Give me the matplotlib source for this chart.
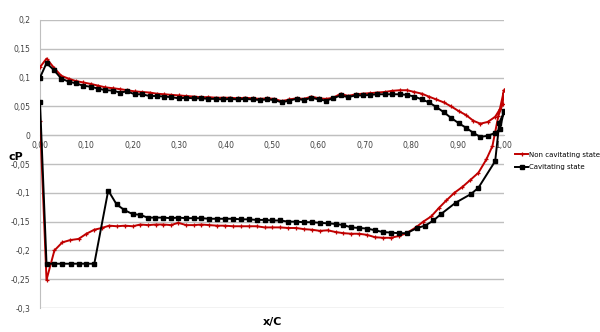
import matplotlib.pyplot as plt
from matplotlib.ticker import FuncFormatter

# upper surface (leading edge -> trailing edge)
upper_x = [0.000, 0.014, 0.030, 0.046, 0.062, 0.077, 0.093, 0.109, 0.125, 0.141,
           0.157, 0.172, 0.188, 0.204, 0.220, 0.236, 0.252, 0.268, 0.283, 0.299,
           0.315, 0.331, 0.347, 0.363, 0.379, 0.394, 0.410, 0.426, 0.442, 0.458,
           0.474, 0.490, 0.505, 0.521, 0.537, 0.553, 0.569, 0.585, 0.601, 0.616,
           0.632, 0.648, 0.664, 0.680, 0.696, 0.712, 0.727, 0.743, 0.759, 0.775,
           0.791, 0.807, 0.823, 0.838, 0.854, 0.870, 0.886, 0.902, 0.918, 0.934,
           0.949, 0.965, 0.981, 0.991, 1.000]
upper_noncav = [0.118, 0.133, 0.117, 0.103, 0.098, 0.094, 0.0915, 0.089, 0.086, 0.083,
                0.0815, 0.080, 0.078, 0.076, 0.075, 0.074, 0.072, 0.071, 0.070, 0.069,
                0.068, 0.067, 0.066, 0.066, 0.065, 0.065, 0.065, 0.064, 0.065, 0.064,
                0.063, 0.064, 0.063, 0.059, 0.062, 0.064, 0.063, 0.067, 0.064, 0.063,
                0.065, 0.072, 0.068, 0.071, 0.072, 0.073, 0.074, 0.075, 0.077, 0.078,
                0.078, 0.075, 0.072, 0.067, 0.062, 0.057, 0.050, 0.042, 0.035, 0.025,
                0.020, 0.023, 0.032, 0.045, 0.078]
upper_cav = [0.100, 0.125, 0.113, 0.098, 0.093, 0.090, 0.086, 0.084, 0.081, 0.078,
             0.0775, 0.074, 0.076, 0.071, 0.071, 0.068, 0.068, 0.067, 0.066, 0.064,
             0.065, 0.064, 0.064, 0.063, 0.063, 0.062, 0.063, 0.062, 0.063, 0.062,
             0.061, 0.062, 0.061, 0.057, 0.060, 0.063, 0.061, 0.065, 0.062, 0.060,
             0.064, 0.069, 0.066, 0.069, 0.069, 0.070, 0.071, 0.071, 0.071, 0.071,
             0.070, 0.067, 0.062, 0.057, 0.049, 0.040, 0.030, 0.021, 0.013, 0.004,
             -0.003, -0.001, 0.004, 0.010, 0.042]

# lower surface (leading edge -> trailing edge)
lower_x_noncav = [0.000, 0.014, 0.031, 0.048, 0.065, 0.083, 0.100, 0.117, 0.133, 0.149,
                  0.166, 0.183, 0.200, 0.216, 0.233, 0.250, 0.266, 0.282, 0.298, 0.315,
                  0.332, 0.348, 0.365, 0.382, 0.399, 0.416, 0.433, 0.450, 0.467, 0.484,
                  0.501, 0.518, 0.535, 0.552, 0.569, 0.586, 0.603, 0.620, 0.637, 0.654,
                  0.671, 0.688, 0.705, 0.722, 0.739, 0.756, 0.773, 0.790, 0.810, 0.826,
                  0.843, 0.860, 0.876, 0.893, 0.910, 0.927, 0.945, 0.962, 0.975, 0.988,
                  0.997, 1.000]
lower_noncav = [0.025, -0.251, -0.200, -0.186, -0.182, -0.180, -0.171, -0.164, -0.161, -0.157,
                -0.158, -0.157, -0.158, -0.155, -0.156, -0.155, -0.155, -0.156, -0.152, -0.156,
                -0.156, -0.155, -0.156, -0.157, -0.157, -0.158, -0.158, -0.158, -0.158, -0.160,
                -0.160, -0.160, -0.161, -0.161, -0.163, -0.164, -0.166, -0.165, -0.168, -0.170,
                -0.171, -0.171, -0.173, -0.177, -0.178, -0.178, -0.175, -0.170, -0.160, -0.150,
                -0.141, -0.126, -0.113, -0.100, -0.090, -0.078, -0.065, -0.042, -0.019, 0.034,
                0.054, 0.078]

lower_x_cav = [0.000, 0.014, 0.031, 0.048, 0.066, 0.083, 0.100, 0.117, 0.147, 0.165,
               0.182, 0.200, 0.215, 0.232, 0.248, 0.266, 0.282, 0.298, 0.315, 0.331,
               0.348, 0.365, 0.382, 0.399, 0.416, 0.433, 0.450, 0.467, 0.484, 0.501,
               0.518, 0.535, 0.552, 0.569, 0.586, 0.603, 0.620, 0.637, 0.654, 0.671,
               0.688, 0.705, 0.722, 0.739, 0.756, 0.773, 0.790, 0.813, 0.830, 0.848,
               0.864, 0.896, 0.929, 0.945, 0.981, 0.990, 1.000]
lower_cav = [0.057, -0.223, -0.223, -0.223, -0.223, -0.223, -0.223, -0.223, -0.096, -0.120,
             -0.130, -0.137, -0.138, -0.143, -0.143, -0.143, -0.144, -0.143, -0.144, -0.144,
             -0.144, -0.145, -0.145, -0.145, -0.145, -0.146, -0.146, -0.147, -0.147, -0.148,
             -0.148, -0.150, -0.150, -0.151, -0.151, -0.152, -0.153, -0.154, -0.156, -0.160,
             -0.161, -0.162, -0.165, -0.168, -0.169, -0.170, -0.170, -0.161, -0.157, -0.148,
             -0.137, -0.117, -0.102, -0.091, -0.045, 0.022, 0.040]

labels = ["Non cavitating state", "Cavitating state"]

fig = plt.figure(figsize=(6, 3.32), dpi=100)
ax = fig.add_axes([0.0667, 0.072, 0.7733, 0.868])

# one polyline per series: upper surface to trailing edge, then lower surface back
x_nc = upper_x + lower_x_noncav[::-1]
y_nc = upper_noncav + lower_noncav[::-1]
x_c = upper_x + lower_x_cav[::-1]
y_c = upper_cav + lower_cav[::-1]

ax.plot(x_nc, y_nc, color='#C00000', lw=1.4, marker='+', ms=3, mew=0.9,
        label=labels[0], zorder=3)
ax.plot(x_c, y_c, color='black', lw=1.4, marker='s', ms=2.6,
        label=labels[1], zorder=4)

ax.set_xlim(0, 1.0)
ax.set_ylim(-0.3, 0.2)
ax.set_xticks([i / 10 for i in range(11)])
ax.set_yticks([-0.3, -0.25, -0.2, -0.15, -0.1, -0.05, 0, 0.05, 0.1, 0.15, 0.2])

ax.xaxis.set_major_formatter(FuncFormatter(lambda v, p: f"{v:.2f}".replace('.', ',')))
ax.yaxis.set_major_formatter(FuncFormatter(
    lambda v, p: '0' if abs(v) < 1e-9 else f"{v:g}".replace('.', ',')))

ax.grid(axis='y', color='#BFBFBF', lw=1)
ax.set_axisbelow(True)
for s in ['top', 'right']:
    ax.spines[s].set_visible(False)
ax.spines['bottom'].set_position(('data', 0))
ax.spines['bottom'].set_color('#BFBFBF')
ax.spines['left'].set_color('#BFBFBF')
ax.tick_params(axis='both', length=0, labelsize=5.5, colors='#404040')
ax.tick_params(axis='x', pad=4)
ax.tick_params(axis='y', pad=7)

fig.text(0.455, 0.022, 'x/C', fontsize=8, fontweight='bold', ha='center')
fig.text(0.026, 0.518, 'cP', fontsize=8, fontweight='bold', ha='center')

fig.legend(loc='upper left', bbox_to_anchor=(0.853, 0.552), frameon=False,
           fontsize=5, handlelength=2.0, handletextpad=0.1, labelspacing=1.0,
           borderaxespad=0)

plt.savefig('out.png', dpi=100)
